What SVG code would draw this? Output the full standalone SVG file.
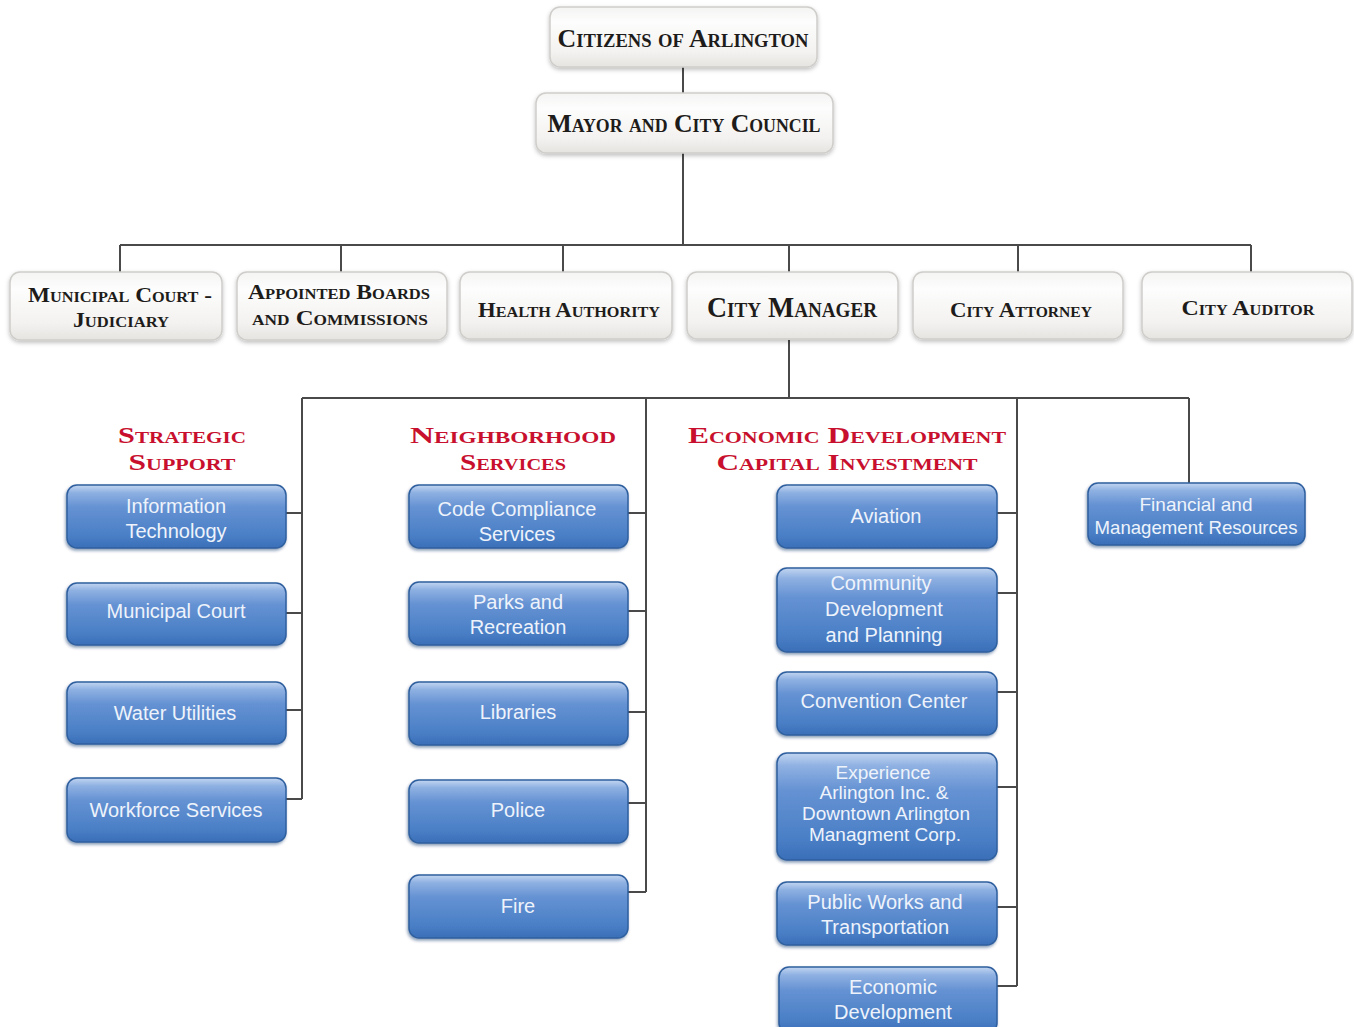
<svg xmlns="http://www.w3.org/2000/svg" width="1354" height="1027" viewBox="0 0 1354 1027">
<defs>
<linearGradient id="gGray" x1="0" y1="0" x2="0" y2="1">
<stop offset="0" stop-color="#f4f4f3"/>
<stop offset="0.25" stop-color="#fdfdfd"/>
<stop offset="0.75" stop-color="#f3f2f0"/>
<stop offset="1" stop-color="#e6e4e1"/>
</linearGradient>
<linearGradient id="gBlue" x1="0" y1="0" x2="0" y2="1">
<stop offset="0" stop-color="#c3d6f1"/>
<stop offset="0.12" stop-color="#8fb1e2"/>
<stop offset="0.35" stop-color="#6592d3"/>
<stop offset="0.8" stop-color="#4a7fc6"/>
<stop offset="1" stop-color="#3a6fb8"/>
</linearGradient>
<filter id="sh" x="-10%" y="-20%" width="120%" height="150%">
<feDropShadow dx="0" dy="2" stdDeviation="2" flood-color="#000" flood-opacity="0.25"/>
</filter>
<filter id="shb" x="-10%" y="-20%" width="120%" height="150%">
<feDropShadow dx="-1" dy="2" stdDeviation="1.5" flood-color="#0a2f66" flood-opacity="0.45"/>
</filter>
</defs>
<style>
.gbox{fill:url(#gGray);stroke:#cfcdca;stroke-width:1.5;filter:url(#sh)}
.bbox{fill:url(#gBlue);stroke:#2f5f9e;stroke-width:1.5;filter:url(#shb)}
.gt{font-family:"Liberation Serif",serif;font-weight:bold;font-variant:small-caps;fill:#1e1c1a;text-anchor:middle}
.rt{font-family:"Liberation Serif",serif;font-weight:bold;font-variant:small-caps;fill:#c8102e;text-anchor:middle;font-size:23px}
.bt{font-family:"Liberation Sans",Arial,sans-serif;fill:#eef3fb;text-anchor:middle;font-size:20px}
.bs{font-size:19px}
.ln{stroke:#4a4a4a;stroke-width:2;fill:none}
</style>
<rect width="1354" height="1027" fill="#ffffff"/>

<g id="connectors">
<path class="ln" d="M683 67V93M683 153V245M120 245H1251M120 245V272M341 245V272M563 245V272M789 245V272M1018 245V272M1251 245V272"/>
<path class="ln" d="M789 340V398M302 398H1189M302 398V799M646 398V892M1017 398V986M1189 398V483"/>
<path class="ln" d="M286 513H302M286 613H302M286 710H302M286 799H302"/>
<path class="ln" d="M628 513H646M628 611H646M628 712H646M628 803H646M628 892H646"/>
<path class="ln" d="M997 513H1017M997 593H1017M997 692H1017M997 787H1017M997 907H1017M997 986H1017"/>
</g>

<g id="citizens"><rect class="gbox" x="550" y="7" width="267" height="60" rx="10"/><text class="gt" x="683" y="47" font-size="25" textLength="251" lengthAdjust="spacingAndGlyphs">Citizens of Arlington</text></g>
<g id="mayor"><rect class="gbox" x="536" y="93" width="297" height="60" rx="10"/><text class="gt" x="684" y="132" font-size="26" textLength="273" lengthAdjust="spacingAndGlyphs">Mayor and City Council</text></g>

<g id="municipal-court-judiciary"><rect class="gbox" x="10" y="272" width="212" height="68" rx="10"/><text class="gt" x="120" y="302" font-size="20" textLength="184" lengthAdjust="spacingAndGlyphs">Municipal Court -</text><text class="gt" x="121" y="327" font-size="20" textLength="96" lengthAdjust="spacingAndGlyphs">Judiciary</text></g>
<g id="appointed-boards"><rect class="gbox" x="237" y="272" width="210" height="68" rx="10"/><text class="gt" x="339" y="299" font-size="20" textLength="182" lengthAdjust="spacingAndGlyphs">Appointed Boards</text><text class="gt" x="340" y="325" font-size="20" textLength="176" lengthAdjust="spacingAndGlyphs">and Commissions</text></g>
<g id="health-authority"><rect class="gbox" x="460" y="272" width="212" height="67" rx="10"/><text class="gt" x="569" y="317" font-size="21" textLength="182" lengthAdjust="spacingAndGlyphs">Health Authority</text></g>
<g id="city-manager"><rect class="gbox" x="687" y="272" width="211" height="67" rx="10"/><text class="gt" x="792" y="317" font-size="29" textLength="170" lengthAdjust="spacingAndGlyphs">City Manager</text></g>
<g id="city-attorney"><rect class="gbox" x="913" y="272" width="210" height="67" rx="10"/><text class="gt" x="1021" y="317" font-size="22" textLength="142" lengthAdjust="spacingAndGlyphs">City Attorney</text></g>
<g id="city-auditor"><rect class="gbox" x="1142" y="272" width="210" height="67" rx="10"/><text class="gt" x="1248" y="315" font-size="22" textLength="133" lengthAdjust="spacingAndGlyphs">City Auditor</text></g>

<g id="head-strategic"><text class="rt" x="182" y="443" textLength="128" lengthAdjust="spacingAndGlyphs">Strategic</text><text class="rt" x="182" y="470" textLength="107" lengthAdjust="spacingAndGlyphs">Support</text></g>
<g id="head-neighborhood"><text class="rt" x="513" y="443" textLength="206" lengthAdjust="spacingAndGlyphs">Neighborhood</text><text class="rt" x="513" y="470" textLength="106" lengthAdjust="spacingAndGlyphs">Services</text></g>
<g id="head-economic"><text class="rt" x="847" y="443" textLength="318" lengthAdjust="spacingAndGlyphs">Economic Development</text><text class="rt" x="847" y="470" textLength="261" lengthAdjust="spacingAndGlyphs">Capital Investment</text></g>

<g id="information-technology"><rect class="bbox" x="67" y="485" width="219" height="63" rx="10"/><text class="bt" x="176" y="513">Information</text><text class="bt" x="176" y="538">Technology</text></g>
<g id="municipal-court"><rect class="bbox" x="67" y="583" width="219" height="62" rx="10"/><text class="bt" x="176" y="618">Municipal Court</text></g>
<g id="water-utilities"><rect class="bbox" x="67" y="682" width="219" height="62" rx="10"/><text class="bt" x="175" y="720">Water Utilities</text></g>
<g id="workforce-services"><rect class="bbox" x="67" y="778" width="219" height="64" rx="10"/><text class="bt" x="176" y="817">Workforce Services</text></g>

<g id="code-compliance"><rect class="bbox" x="409" y="485" width="219" height="63" rx="10"/><text class="bt" x="517" y="516">Code Compliance</text><text class="bt" x="517" y="541">Services</text></g>
<g id="parks"><rect class="bbox" x="409" y="582" width="219" height="63" rx="10"/><text class="bt" x="518" y="609">Parks and</text><text class="bt" x="518" y="634">Recreation</text></g>
<g id="libraries"><rect class="bbox" x="409" y="682" width="219" height="63" rx="10"/><text class="bt" x="518" y="719">Libraries</text></g>
<g id="police"><rect class="bbox" x="409" y="780" width="219" height="63" rx="10"/><text class="bt" x="518" y="817">Police</text></g>
<g id="fire"><rect class="bbox" x="409" y="875" width="219" height="63" rx="10"/><text class="bt" x="518" y="913">Fire</text></g>

<g id="aviation"><rect class="bbox" x="777" y="485" width="220" height="63" rx="10"/><text class="bt" x="886" y="523">Aviation</text></g>
<g id="community-development"><rect class="bbox" x="777" y="568" width="220" height="84" rx="10"/><text class="bt" x="881" y="590">Community</text><text class="bt" x="884" y="616">Development</text><text class="bt" x="884" y="642">and Planning</text></g>
<g id="convention-center"><rect class="bbox" x="777" y="672" width="220" height="63" rx="10"/><text class="bt" x="884" y="708">Convention Center</text></g>
<g id="experience-arlington"><rect class="bbox" x="777" y="753" width="220" height="107" rx="10"/><text class="bt bs" x="883" y="779">Experience</text><text class="bt bs" x="884" y="799">Arlington Inc. &amp;</text><text class="bt bs" x="886" y="820">Downtown Arlington</text><text class="bt bs" x="885" y="841">Managment Corp.</text></g>
<g id="public-works"><rect class="bbox" x="777" y="882" width="220" height="63" rx="10"/><text class="bt" x="885" y="909">Public Works and</text><text class="bt" x="885" y="934">Transportation</text></g>
<g id="economic-development"><rect class="bbox" x="779" y="967" width="218" height="66" rx="10"/><text class="bt" x="893" y="994">Economic</text><text class="bt" x="893" y="1019">Development</text></g>

<g id="financial-management"><rect class="bbox" x="1088" y="483" width="217" height="62" rx="10"/><text class="bt bs" x="1196" y="511">Financial and</text><text class="bt bs" x="1196" y="534" textLength="203" lengthAdjust="spacingAndGlyphs">Management Resources</text></g>
</svg>
